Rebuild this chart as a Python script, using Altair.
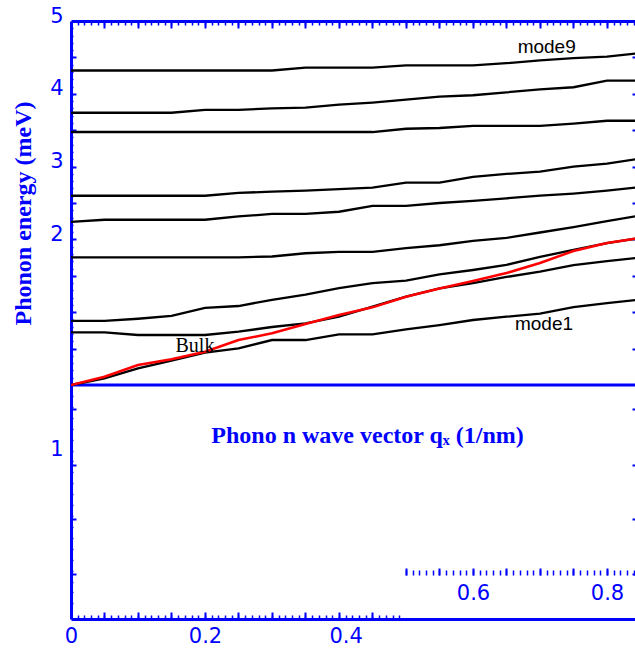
import altair as alt
import pandas as pd

# ---------------- data ----------------
q = [0.0, 0.05, 0.1, 0.15, 0.2, 0.25, 0.3, 0.35, 0.4, 0.45,
     0.5, 0.55, 0.6, 0.65, 0.7, 0.75, 0.8, 0.85]

mode1 = [0.0, 0.092, 0.229, 0.334, 0.444, 0.504, 0.618, 0.618, 0.696, 0.696,
         0.765, 0.824, 0.893, 0.938, 0.982, 1.071, 1.126, 1.174]
mode2 = [0.724, 0.724, 0.687, 0.687, 0.687, 0.732, 0.797, 0.848, 0.938, 1.076,
         1.213, 1.326, 1.40, 1.484, 1.559, 1.648, 1.703, 1.751]
mode3 = [0.88, 0.88, 0.91, 0.95, 1.06, 1.085, 1.17, 1.24, 1.33, 1.40,
         1.435, 1.52, 1.58, 1.65, 1.76, 1.855, 1.95, 2.02]
mode4 = [1.754, 1.754, 1.754, 1.754, 1.754, 1.754, 1.765, 1.81, 1.83, 1.83,
         1.88, 1.92, 1.98, 2.02, 2.095, 2.17, 2.25, 2.33]
mode5 = [2.24, 2.27, 2.27, 2.27, 2.27, 2.315, 2.35, 2.35, 2.38, 2.46,
         2.46, 2.50, 2.53, 2.565, 2.60, 2.63, 2.67, 2.72]
mode6 = [2.60, 2.60, 2.60, 2.60, 2.60, 2.64, 2.655, 2.67, 2.69, 2.71,
         2.78, 2.78, 2.86, 2.90, 2.93, 3.00, 3.04, 3.11]
mode7 = [3.475, 3.475, 3.475, 3.475, 3.475, 3.475, 3.475, 3.475, 3.475, 3.475,
         3.52, 3.53, 3.56, 3.56, 3.56, 3.59, 3.63, 3.63]
mode8 = [3.74, 3.74, 3.74, 3.74, 3.78, 3.78, 3.80, 3.81, 3.85, 3.88,
         3.92, 3.96, 3.98, 4.02, 4.06, 4.09, 4.18, 4.18]
mode9 = [4.32, 4.32, 4.32, 4.32, 4.32, 4.32, 4.32, 4.36, 4.36, 4.36,
         4.39, 4.39, 4.39, 4.42, 4.46, 4.49, 4.51, 4.56]
bulk = [0.0, 0.114, 0.275, 0.353, 0.457, 0.618, 0.71, 0.838, 0.962, 1.067,
        1.213, 1.326, 1.429, 1.538, 1.676, 1.841, 1.951, 2.019]

mode_names = ["mode1", "mode2", "mode3", "mode4", "mode5",
              "mode6", "mode7", "mode8", "mode9"]
mode_values = [mode1, mode2, mode3, mode4, mode5, mode6, mode7, mode8, mode9]

# annotations
ann_sans_text = ["mode9", "mode1"]
ann_sans_q = [0.710, 0.706]
ann_sans_E = [4.56, 0.755]
ann_serif_text = ["Bulk"]
ann_serif_q = [0.185]
ann_serif_E = [0.453]

# axis labels
x_label_vals = [0.0, 0.2, 0.41]
x_label_text = ["0", "0.2", "0.4"]
x2_label_vals = [0.6, 0.8]
x2_label_text = ["0.6", "0.8"]
y_label_vals = [5, 4, 3, 2, -0.96]
y_label_text = ["5", "4", "3", "2", "1"]

# ---------------- build tables ----------------
rows = []
for name, vals in zip(mode_names, mode_values):
    for qq, e in zip(q, vals):
        rows.append({"q": qq, "E": e, "mode": name})
modes_df = pd.DataFrame(rows)
bulk_df = pd.DataFrame({"q": q, "E": bulk})
sans_df = pd.DataFrame({"q": ann_sans_q, "E": ann_sans_E, "t": ann_sans_text})
serif_df = pd.DataFrame({"q": ann_serif_q, "E": ann_serif_E, "t": ann_serif_text})
zero_df = pd.DataFrame({"E": [0.0]})

BLUE = "#0000ff"
LABEL_FONT = "DejaVu Sans"
W, H = 564, 598
xscale = alt.Scale(domain=[0, 0.8418], nice=False, zero=False)
yscale = alt.Scale(domain=[-3.214, 5], nice=False, zero=False)


def label_expr(vals, texts):
    parts = [f"abs(datum.value - ({v})) < 0.0005 ? '{t}'" for v, t in zip(vals, texts)]
    return " : ".join(parts) + " : ''"


def rng(a, b, step):
    out = []
    v = a
    while v <= b + 1e-9:
        out.append(round(v, 4))
        v += step
    return out


def tick_axis(orient, offset, values, size, width):
    return alt.Axis(orient=orient, offset=offset, values=values, tickSize=size,
                    tickWidth=width, tickColor=BLUE, domain=False, labels=False,
                    grid=False, ticks=True, title=None)


def ax_layer(x_axis=None, y_axis=None):
    return alt.Chart(bulk_df).mark_point(opacity=0, size=1).encode(
        x=alt.X("q:Q", scale=xscale, axis=x_axis),
        y=alt.Y("E:Q", scale=yscale, axis=y_axis),
    )


# ---------------- axes ----------------
x_main = alt.Axis(orient="bottom", domain=True, domainColor=BLUE, domainWidth=3,
                  ticks=False, grid=False, values=x_label_vals,
                  labelExpr=label_expr(x_label_vals, x_label_text),
                  labelFont=LABEL_FONT, labelFontSize=21, labelColor=BLUE,
                  labelPadding=6, labelFlush=False, labelOverlap=False,
                  title="Phono n wave vector qₓ (1/nm)",
                  titleFont="Liberation Serif", titleFontWeight="bold",
                  titleFontSize=24, titleColor=BLUE, titleX=296, titleY=-184,
                  titleAlign="center", titleBaseline="middle")
x_top_domain = alt.Axis(orient="top", domain=True, domainColor=BLUE, domainWidth=3,
                        ticks=False, labels=False, grid=False, title=None)
x_top_major = tick_axis("bottom", -H, rng(0.05, 0.84, 0.05), 7, 2)
x_top_minor = tick_axis("bottom", -H, rng(0.01, 0.84, 0.01), 4, 1.5)
x_bot_major = tick_axis("top", -H, rng(0.05, 0.45, 0.05), 7, 2)
x_bot_minor = tick_axis("top", -H, rng(0.01, 0.49, 0.01), 4, 1.5)
x_mid_major = tick_axis("top", -(H - 44), rng(0.5, 0.84, 0.05), 7, 2)
x_mid_minor = tick_axis("top", -(H - 44), rng(0.5, 0.84, 0.01), 5, 1.5)
x_mid_labels = alt.Axis(orient="bottom", offset=-44, domain=False, ticks=False,
                        grid=False, values=x2_label_vals,
                        labelExpr=label_expr(x2_label_vals, x2_label_text),
                        labelFont=LABEL_FONT, labelFontSize=21,
                        labelColor=BLUE, labelPadding=7, labelFlush=False,
                        labelOverlap=False, title=None)

y_main = alt.Axis(orient="left", domain=True, domainColor=BLUE, domainWidth=3,
                  ticks=False, grid=False, values=y_label_vals,
                  labelExpr=label_expr(y_label_vals, y_label_text),
                  labelFont=LABEL_FONT, labelFontSize=21, labelColor=BLUE,
                  labelPadding=8, labelOffset=-5, labelFlush=False,
                  labelOverlap=False,
                  title="Phonon energy (meV)", titleFont="Liberation Serif",
                  titleFontWeight="bold", titleFontSize=24, titleColor=BLUE,
                  titleAngle=270, titleX=-48, titleY=192, titleAlign="center",
                  titleBaseline="middle")
y_major_vals = rng(0.5, 4.5, 0.5) + [-0.33, -1.10, -1.846, -2.60]
y_minor_vals = rng(0.1, 4.9, 0.1) + [round(-0.15 * i, 3) for i in range(1, 21)]
y_left_major = tick_axis("right", -W, y_major_vals, 5, 2)
y_left_minor = tick_axis("right", -W, y_minor_vals, 2, 1.5)
y_right_major = tick_axis("left", -W, y_major_vals, 3, 2)

# ---------------- marks ----------------
zero_rule = alt.Chart(zero_df).mark_rule(color=BLUE, strokeWidth=3).encode(
    y=alt.Y("E:Q", scale=yscale, axis=y_main))

mode_lines = alt.Chart(modes_df).mark_line(color="black", strokeWidth=2.3,
                                           clip=True).encode(
    x=alt.X("q:Q", scale=xscale, axis=x_main),
    y=alt.Y("E:Q", scale=yscale, axis=y_left_major),
    detail="mode:N",
    order="q:Q",
)

bulk_line = alt.Chart(bulk_df).mark_line(color="#ff0000", strokeWidth=2.5,
                                         clip=True).encode(
    x=alt.X("q:Q", scale=xscale, axis=x_top_domain),
    y=alt.Y("E:Q", scale=yscale, axis=y_left_minor),
)

sans_text = alt.Chart(sans_df).mark_text(font="Liberation Sans", fontSize=19,
                                         color="black", align="center",
                                         baseline="alphabetic").encode(
    x=alt.X("q:Q", scale=xscale, axis=x_top_major),
    y=alt.Y("E:Q", scale=yscale, axis=y_right_major),
    text="t:N",
)

serif_text = alt.Chart(serif_df).mark_text(font="Liberation Serif", fontSize=20,
                                           color="black", align="center",
                                           baseline="alphabetic").encode(
    x=alt.X("q:Q", scale=xscale, axis=x_top_minor),
    y=alt.Y("E:Q", scale=yscale, axis=None),
    text="t:N",
)

layers = [
    zero_rule,
    ax_layer(x_bot_major),
    ax_layer(x_bot_minor),
    ax_layer(x_mid_major),
    ax_layer(x_mid_minor),
    ax_layer(x_mid_labels),
    mode_lines,
    bulk_line,
    sans_text,
    serif_text,
]

chart = alt.layer(*layers).resolve_axis(
    x="independent", y="independent"
).properties(
    width=W, height=H,
    padding={"left": 71, "top": 21, "right": 0, "bottom": 32},
    autosize=alt.AutoSizeParams(type="none"),
    background="white",
).configure_view(stroke=None)

chart.save("out.html", embed_options={"renderer": "svg", "actions": False})
